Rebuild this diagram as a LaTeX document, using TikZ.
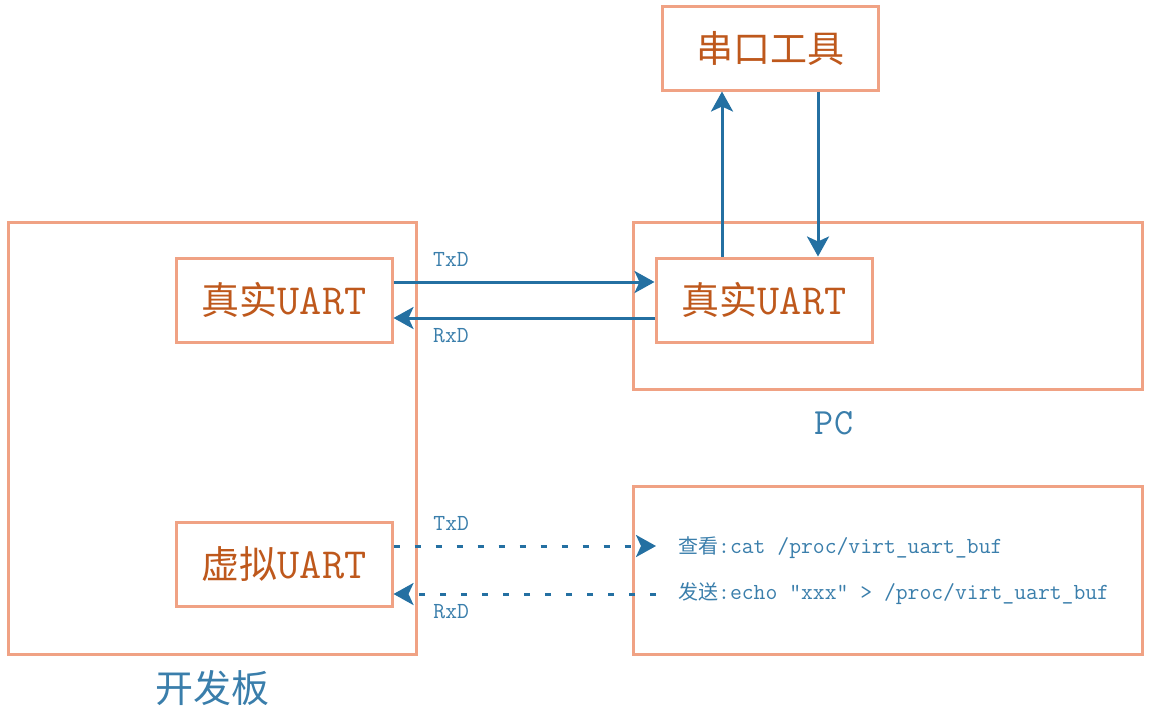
\documentclass[tikz,border=0pt]{standalone}
\usepackage{fontspec}
\newfontfamily\cjk{Noto Sans CJK SC}
\usepackage{tikz}
\usetikzlibrary{arrows.meta}
\definecolor{boxline}{RGB}{240,162,132}
\definecolor{boxtext}{RGB}{190,88,28}
\definecolor{dblue}{RGB}{36,112,162}
\colorlet{labelcolor}{dblue!90!white}
\newcommand\fsz[1]{\fontsize{#1}{#1}\selectfont}
\newcommand\zh[1]{{\cjk #1}}
\newcommand\zhs[1]{{\fsz{20}\cjk #1}}
\newcommand\uart[1]{\zh{#1}{\fsz{43}\ttfamily UART}}
\newcommand\vbuf{/proc/virt\_uart\_buf}
\tikzstyle{box}=[draw=boxline,line width=3pt,rectangle,inner sep=0pt]
\tikzstyle{unit}=[box,minimum width=216pt,minimum height=84pt,text=boxtext,font=\fsz{38}]
\tikzstyle{sighead}=[>/.tip={Stealth[length=20pt,width=22pt,inset=5pt]}]
\tikzstyle{sig}=[draw=dblue,line width=3pt,sighead,->]
\tikzstyle{virtual}=[dash pattern=on 6pt off 15pt]
\tikzstyle{siglabel}=[text=labelcolor,font=\fsz{23}\ttfamily,inner sep=0pt]

\begin{document}
\begin{tikzpicture}[x=1pt,y=-1pt]
	\useasboundingbox (0,0) rectangle (1151,713);
	% outer boxes
	\node[box,minimum width=408pt,minimum height=432pt] (board) at (212,438) {};
	\node[box,minimum width=509pt,minimum height=167pt] (pc) at (887.5,305.5) {};
	\node[box,minimum width=509pt,minimum height=168pt] (shell) at (887.5,570) {};
	\node[text=labelcolor,font=\fsz{38}] at (212,688) {\zh{开发板}};
	\node[text=labelcolor,font=\fsz{37}\ttfamily] at (834,423) {PC};
	% uart boxes
	\node[unit] (ul) at (284,300) {\uart{真实}};
	\node[unit] (ur) at (764,300) {\uart{真实}};
	\node[unit] (vu) at (284,564) {\uart{虚拟}};
	\node[unit,font=\fsz{37}] (tool) at (770,48) {\zh{串口工具}};
	\node[siglabel,anchor=west] (view) at (678,548) {\zhs{查看}:cat \vbuf};
	\node[siglabel,anchor=west] (send) at (678,594) {\zhs{发送}:echo "xxx" > \vbuf};
	% signals
	\draw[sig] ([yshift=18pt]ul.east) --node[siglabel,pos=.22,above=14pt]{TxD} ([yshift=18pt]ur.west);
	\draw[sig] ([yshift=-18pt]ur.west) --node[siglabel,pos=.78,below=9pt]{RxD} ([yshift=-18pt]ul.east);
	\draw[sig] ([xshift=-42pt]ur.north) -- ([xshift=-48pt]tool.south);
	\draw[sig] ([xshift=48pt]tool.south) -- ([xshift=54pt]ur.north);
	\draw[sig,virtual] ([yshift=18pt]vu.east) --node[siglabel,pos=.22,above=14pt]{TxD} ([xshift=-22pt,yshift=2pt]view.west);
	\draw[sig,virtual] ([xshift=-22pt]send.west) --node[siglabel,pos=.78,below=9pt]{RxD} ([yshift=-30pt]vu.east);
\end{tikzpicture}
\end{document}
